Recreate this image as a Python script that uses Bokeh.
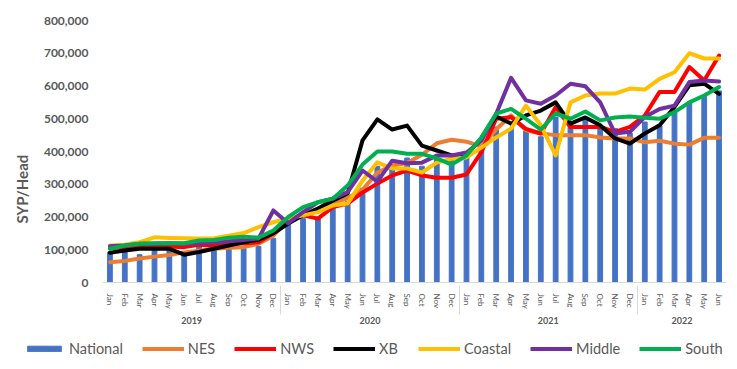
from bokeh.plotting import figure
from bokeh.layouts import column, row
from bokeh.models import (FactorRange, Range1d, NumeralTickFormatter, FixedTicker,
                          Legend, LegendItem, ColumnDataSource, Title)
from bokeh.embed import file_html
from bokeh.resources import INLINE

years = ["2019", "2020", "2021", "2022"]
month_names = ["Jan", "Feb", "Mar", "Apr", "May", "Jun", "Jul", "Aug", "Sep", "Oct", "Nov", "Dec"]
months_per_year = [12, 12, 12, 6]

national = [92, 95, 85, 103, 100, 90, 113, 100, 104, 104, 110, 135,
            178, 195, 200, 238, 248, 288, 355, 350, 380, 355, 380, 378,
            385, 410, 475, 470, 462, 445, 505, 485, 498, 478, 470, 455,
            490, 478, 518, 552, 568, 585]
nes = [62, 66, 73, 79, 84, 92, 97, 103, 106, 108, 118, 143,
       190, 208, 225, 242, 258, 283, 336, 357, 365, 390, 425, 436,
       430, 415, 468, 510, 465, 455, 450, 450, 450, 443, 440, 440,
       428, 433, 424, 421, 442, 442]
nws = [105, 108, 110, 110, 110, 108, 115, 112, 118, 120, 123, 150,
       190, 205, 195, 230, 241, 275, 302, 327, 342, 327, 320, 320,
       330, 398, 500, 505, 469, 455, 535, 475, 475, 475, 460, 475,
       510, 582, 582, 658, 617, 693]
xb = [91, 98, 103, 103, 103, 85, 93, 103, 113, 123, 131, 150,
      180, 205, 226, 250, 272, 434, 498, 467, 479, 418, 403, 388,
      390, 440, 507, 485, 510, 525, 550, 485, 504, 480, 440, 424,
      455, 480, 536, 602, 607, 576]
coastal = [113, 115, 123, 138, 136, 135, 134, 135, 143, 151, 169, 184,
           195, 205, 215, 235, 241, 311, 367, 348, 348, 336, 366, 378,
           382, 412, 443, 470, 540, 480, 388, 550, 571, 577, 577, 592,
           589, 622, 642, 700, 684, 684]
middle = [111, 113, 118, 118, 120, 118, 120, 122, 126, 130, 134, 220,
          181, 215, 245, 256, 276, 342, 308, 372, 364, 366, 388, 388,
          397, 433, 515, 625, 556, 546, 571, 607, 599, 550, 455, 460,
          505, 530, 540, 612, 617, 614]
south = [103, 113, 118, 120, 120, 120, 128, 130, 137, 140, 137, 159,
         200, 230, 245, 256, 296, 360, 400, 400, 393, 393, 379, 360,
         388, 443, 516, 530, 500, 467, 516, 500, 522, 495, 504, 507,
         503, 500, 520, 550, 571, 597]

y_ticks = [0, 100000, 200000, 300000, 400000, 500000, 600000, 700000, 800000]

factors = [(y, m) for y, n in zip(years, months_per_year) for m in month_names[:n]]

def k(v):
    return [x * 1000 for x in v]

src = ColumnDataSource(data=dict(
    x=factors, national=k(national), nes=k(nes), nws=k(nws), xb=k(xb),
    coastal=k(coastal), middle=k(middle), south=k(south)))

# thin grey chart border line at the very top
top = figure(width=737, height=5, x_range=Range1d(0, 1), y_range=Range1d(0, 1),
             output_backend="svg", toolbar_location=None,
             x_axis_location=None, y_axis_location=None,
             min_border=0, min_border_left=0, min_border_right=0,
             min_border_top=2, min_border_bottom=1)
top.outline_line_color = None
top.xgrid.grid_line_color = None
top.ygrid.grid_line_color = None
top.border_fill_color = "white"
top.quad(left=[0], right=[1], bottom=[0], top=[1], color="#D9D9D9", line_color=None)

p = figure(width=737, height=330,
           x_range=FactorRange(*factors, range_padding=0, group_padding=0, factor_padding=0),
           y_range=Range1d(0, 800000),
           output_backend="svg", toolbar_location=None,
           min_border_left=101, min_border_right=11, min_border_top=15, min_border_bottom=53)
p.outline_line_color = None
p.xgrid.grid_line_color = None
p.ygrid.grid_line_color = None
p.background_fill_color = "white"
p.border_fill_color = "white"

bar_color = "#4472C4"
p.vbar(x="x", top="national", width=0.32, source=src, color=bar_color)

series = [("NES", "nes", "#ED7D31"), ("NWS", "nws", "#FF0000"), ("XB", "xb", "#000000"),
          ("Coastal", "coastal", "#FFC000"), ("Middle", "middle", "#7030A0"),
          ("South", "south", "#00B050")]
for name, col, color in series:
    p.line(x="x", y=col, source=src, line_color=color, line_width=4,
           line_join="round", line_cap="round")

# y axis
ya = p.yaxis[0]
ya.ticker = FixedTicker(ticks=y_ticks)
ya.formatter = NumeralTickFormatter(format="0,0")
ya.axis_line_color = None
ya.major_tick_line_color = None
ya.minor_tick_line_color = None
ya.major_label_text_font = "Lato"
ya.major_label_text_font_style = "bold"
ya.major_label_text_font_size = "12px"
ya.major_label_text_color = "#595959"
ya.major_label_standoff = 8

ytitle = Title(text="SYP/Head", align="left", offset=59, standoff=20,
               text_font="Lato", text_font_style="bold", text_font_size="15px",
               text_color="#595959")
p.add_layout(ytitle, "left")

# x axis
xa = p.xaxis[0]
xa.axis_line_color = "#D9D9D9"
xa.major_tick_line_color = None
xa.minor_tick_line_color = None
xa.major_label_orientation = "vertical"
xa.major_label_text_font = "Lato"
xa.major_label_text_font_size = "8px"
xa.major_label_text_color = "#595959"
xa.group_text_font = "Lato"
xa.group_text_font_size = "9px"
xa.group_text_font_style = "bold"
xa.group_text_color = "#595959"
xa.separator_line_color = "#D9D9D9"
xa.separator_line_width = 1

# legend strip (separate small figure so the legend can start left of the plot frame)
lf = figure(width=737, height=34, x_range=Range1d(0, 1), y_range=Range1d(0, 1),
            output_backend="svg", toolbar_location=None,
            x_axis_location=None, y_axis_location=None,
            min_border=0, min_border_left=0, min_border_right=0,
            min_border_top=0, min_border_bottom=0)
lf.outline_line_color = None
lf.xgrid.grid_line_color = None
lf.ygrid.grid_line_color = None
dummy = ColumnDataSource(data=dict(x=[10, 11], y=[10, 11]))
items = [LegendItem(label="National",
                    renderers=[lf.vbar(x="x", top="y", width=0.1, source=dummy, color=bar_color)])]
for name, col, color in series:
    r = lf.line(x="x", y="y", source=dummy, line_color=color, line_width=4)
    items.append(LegendItem(label=name, renderers=[r]))

legend = Legend(items=items, orientation="horizontal", location=(23, 12),
                glyph_width=42, glyph_height=7, label_standoff=4, spacing=19,
                padding=0, margin=0, background_fill_alpha=0, border_line_color=None,
                label_text_font="Lato", label_text_font_size="14.5px",
                label_text_color="#595959")
lf.add_layout(legend)

layout = column(row(top), p, row(lf), spacing=0)
open("out.html", "w").write(file_html(layout, INLINE))
